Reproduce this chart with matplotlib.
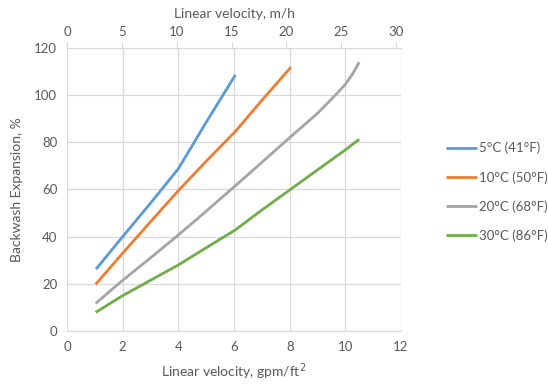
import matplotlib.pyplot as plt

# backwash expansion vs linear velocity
x_5 = [1.04, 2.0, 3.0, 4.0, 5.0, 6.05]
y_5 = [26.2, 40.0, 54.2, 68.8, 88.5, 108.6]

x_10 = [1.03, 2.0, 3.0, 4.0, 5.0, 6.04, 7.0, 8.04]
y_10 = [19.8, 33.0, 46.3, 59.5, 72.0, 84.5, 97.8, 111.8]

x_20 = [1.03, 2.0, 3.0, 4.0, 5.0, 6.04, 7.0, 8.0, 9.0, 9.5, 9.75, 10.0, 10.25, 10.5]
y_20 = [11.7, 21.5, 31.0, 40.7, 50.8, 61.5, 71.5, 82.0, 92.3, 98.3, 101.4, 104.6, 108.8, 114.0]

x_30 = [1.03, 2.0, 3.0, 4.0, 5.0, 6.04, 7.0, 8.0, 9.0, 10.0, 10.5]
y_30 = [7.9, 15.0, 21.5, 28.0, 35.3, 42.8, 51.3, 59.8, 68.3, 76.8, 81.3]

labels = ['5°C (41°F)', '10°C (50°F)', '20°C (68°F)', '30°C (86°F)']
colors = ['#5B9BD5', '#ED7D31', '#A5A5A5', '#70AD47']

plt.rcParams['font.family'] = ['Lato', 'DejaVu Sans']
txt = '#595959'
grid = '#D9D9D9'

fig = plt.figure(figsize=(5.48, 3.86), dpi=100)
ax = fig.add_axes([0.1223, 0.1425, 0.6095, 0.7332])

series = [(x_5, y_5), (x_10, y_10), (x_20, y_20), (x_30, y_30)]
for (xs, ys), lab, c in zip(series, labels, colors):
    ax.plot(xs, ys, color=c, lw=2, label=lab, solid_capstyle='butt',
            solid_joinstyle='round')

ax.set_xlim(0, 12)
ax.set_ylim(0, 120)
ax.set_xticks(range(0, 13, 2))
ax.set_yticks(range(0, 121, 20))
ax.grid(True, color=grid, lw=0.9)
ax.set_axisbelow(True)
for s in ax.spines.values():
    s.set_visible(False)
ax.spines['bottom'].set_visible(True)
ax.spines['bottom'].set_color(grid)
ax.tick_params(length=0, labelsize=9.5, colors=txt, pad=7)
ax.set_xlabel('Linear velocity, gpm/ft$^2$', fontsize=10, color=txt, labelpad=6)
ax.set_ylabel('Backwash Expansion, %', fontsize=10, color=txt, labelpad=8)

top = ax.twiny()
top.set_xlim(0, 30.45)
top.set_xticks(range(0, 31, 5))
for s in top.spines.values():
    s.set_visible(False)
top.spines['top'].set_visible(True)
top.spines['top'].set_color(grid)
top.tick_params(axis='x', length=4, color=grid, labelsize=9.5, labelcolor=txt, pad=3)
top.set_xlabel('Linear velocity, m/h', fontsize=10, color=txt, labelpad=6)

leg = ax.legend(loc='upper left', bbox_to_anchor=(1.1, 0.71), frameon=False,
                fontsize=9.5, labelcolor=txt, handlelength=2.3, handletextpad=0.2,
                labelspacing=1.25)

fig.savefig('out.png', dpi=100)
